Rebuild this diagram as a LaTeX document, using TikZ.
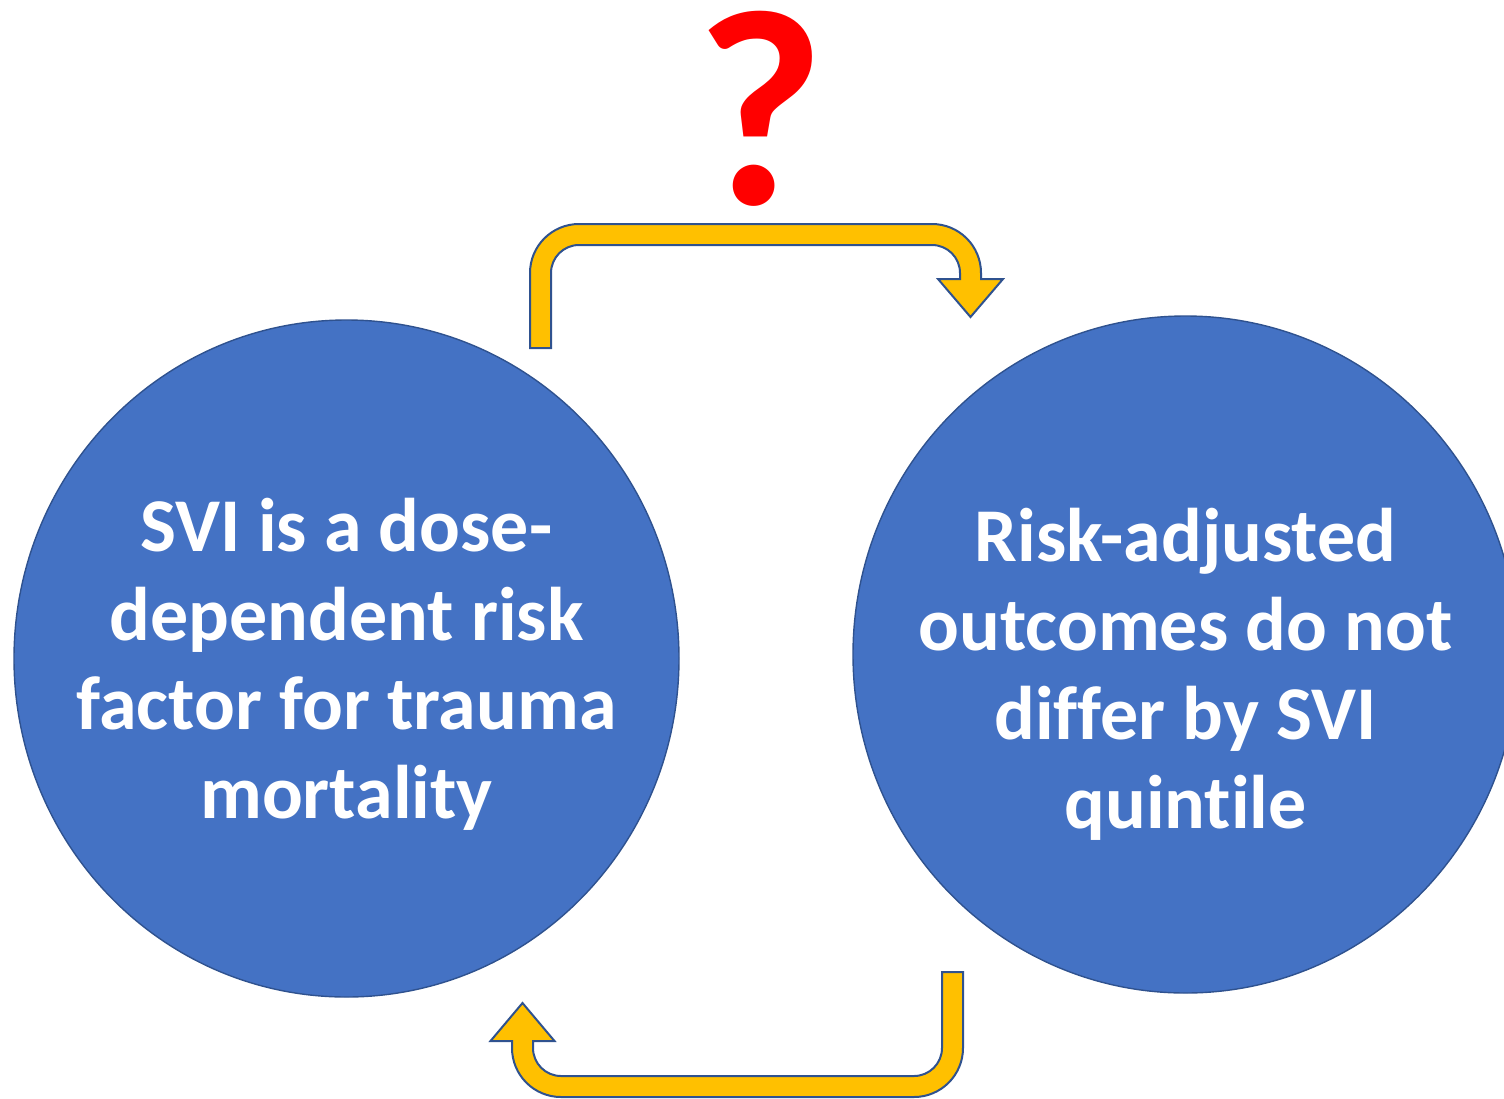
\documentclass[tikz,border=0pt]{standalone}
\usepackage{fontspec}
\setmainfont{Carlito}[Ligatures=NoCommon]
\usetikzlibrary{shapes.geometric}
\definecolor{discfill}{HTML}{4472C4}
\definecolor{discline}{HTML}{2F528F}
\definecolor{bentfill}{HTML}{FFC000}
\definecolor{askred}{HTML}{FF0000}

\begin{document}
\begin{tikzpicture}[x=0.5pt,y=0.5pt,yscale=-1,
  disc/.style={ellipse, draw=discline, fill=discfill, line width=0.7pt,
    minimum width=332.5pt, minimum height=338.5pt, inner sep=0pt},
  disctext/.style={text=white, align=center, inner sep=0pt,
    font=\bfseries\fontsize{38}{44.5}\selectfont},
  bentarrow/.style={draw=discline, fill=bentfill, line width=1pt},
  ask/.style={text=askred, inner sep=0pt,
    font=\bfseries\fontsize{140}{140}\selectfont}]
\useasboundingbox (0,0) rectangle (1504,1098);

% Circles
\node[disc] (risk) at (346.5,658.5) {};
\node[disc] (outcome) at (1185.5,654.5) {};

% Text Node
\node[disctext] (risktext) at (346.5,664.5) {SVI is a dose-\\dependent risk\\factor for trauma\\mortality};
% Text Node
\node[disctext] (outcometext) at (1185.5,674.5) {Risk-adjusted\\outcomes do not\\differ by SVI\\quintile};
% Text Node
\node[ask] (query) at (760,109) {?};

% Bent arrow, left to right over the top
\draw[bentarrow] (530,348) -- (530,273) arc[start angle=180, end angle=270, radius=49]
  -- (932,224) arc[start angle=270, end angle=360, radius=49]
  -- (981,279) -- (1003,279) -- (970.5,317) -- (938,279) -- (960,279)
  -- (960,273) arc[start angle=0, end angle=-90, radius=28]
  -- (579,245) arc[start angle=270, end angle=180, radius=28]
  -- (551,348) -- cycle;
% Bent arrow, right to left along the bottom
\draw[bentarrow] (942,972) -- (963,972) -- (963,1048) arc[start angle=0, end angle=90, radius=49]
  -- (561,1097) arc[start angle=90, end angle=180, radius=49]
  -- (512,1041) -- (490.5,1041) -- (522.5,1003) -- (554.5,1041) -- (533,1041)
  -- (533,1048) arc[start angle=180, end angle=90, radius=28]
  -- (914,1076) arc[start angle=90, end angle=0, radius=28] -- cycle;

\end{tikzpicture}
\end{document}
